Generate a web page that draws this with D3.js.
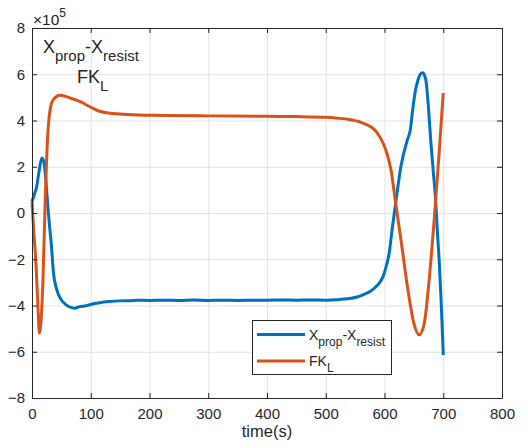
<!DOCTYPE html>
<html>
<head>
<meta charset="utf-8">
<script src="https://cdn.jsdelivr.net/npm/d3@7"></script>
<style>
body { margin: 0; background: #fff; }
text { font-family: "Liberation Sans", Arial, sans-serif; fill: #262626; }
</style>
</head>
<body>
<div id="PlotArea"></div>
<script>
// values are in units of 1e5
var timeBlue = [0, 4, 8, 12, 16.7, 19, 21.5, 24, 27, 30, 32.7, 36.6, 42, 50, 58, 66, 72, 80, 90, 100, 109, 120, 132, 150, 166, 180,
  200, 225, 250, 275, 300, 325, 350, 375, 400, 425, 450, 475, 500, 520, 540, 555, 565, 575, 585, 592, 598, 603, 608, 613, 619,
  628, 639, 644, 648, 652, 657, 661, 665, 670, 675, 679, 683, 687, 690, 693, 696, 698, 700];
var blueVals = [0.5, 0.8, 1.15, 1.8, 2.38, 2.3, 2.0, 1.3, 0.28, -0.6, -1.3, -2.6, -3.3, -3.76, -3.97, -4.08, -4.12, -4.06, -4.02, -3.96, -3.9, -3.86, -3.83, -3.8, -3.79, -3.77,
  -3.78, -3.77, -3.78, -3.76, -3.78, -3.77, -3.78, -3.77, -3.77, -3.76, -3.77, -3.76, -3.77, -3.75, -3.7, -3.62, -3.52, -3.4, -3.2, -3.0, -2.72, -2.3, -1.73, -0.7, 0.43,
  2.02, 3.17, 3.6, 4.47, 5.2, 5.75, 6.0, 6.06, 5.8, 4.5, 3.03, 1.8, 0.57, -0.8, -2.02, -3.6, -4.8, -6.14];

var timeOrange = [0, 3, 7, 10, 12.8, 15, 18.5, 22.5, 27, 32.7, 38, 47, 60, 70, 81, 100, 115, 130, 149, 180, 223, 300, 400, 450, 500,
  520, 540, 560, 575, 585, 593, 602, 611, 619, 628, 639, 650, 659, 667.6, 676, 684.6, 693, 700];
var orangeVals = [0.5, -0.8, -2.3, -4.0, -5.2, -4.8, -3.03, 0.57, 3.46, 4.7, 4.95, 5.09, 5.02, 4.93, 4.83, 4.58, 4.4, 4.32, 4.28, 4.24, 4.22, 4.2, 4.18, 4.17, 4.14,
  4.1, 4.04, 3.92, 3.75, 3.55, 3.25, 2.74, 1.87, 0.43, -1.16, -3.18, -4.77, -5.27, -4.77, -2.89, -0.29, 2.6, 5.19];

var xTicks = [0, 100, 200, 300, 400, 500, 600, 700, 800];
var yTicks = [-8, -6, -4, -2, 0, 2, 4, 6, 8];
var colors = ["#0072BD", "#D95319"];

var margins = [28, 26, 50, 32]; // top right bottom left
var width = 470, height = 370;

var xscale = d3.scaleLinear().domain([0, 800]).range([0, width]);
var yscale = d3.scaleLinear().domain([-8, 8]).range([height, 0]);

var svg = d3.select("#PlotArea").append("svg")
  .attr("width", 528).attr("height", 448)
  .append("g")
  .attr("transform", "translate(" + margins[3] + "," + margins[0] + ")");

// grid
svg.append("g").attr("class", "grid").attr("transform", "translate(0," + height + ")")
  .call(d3.axisBottom(xscale).tickValues(xTicks).tickSize(-height).tickFormat(""))
  .call(function (g) { g.select(".domain").remove(); g.selectAll("line").attr("stroke", "#e2e2e2"); });
svg.append("g").attr("class", "grid")
  .call(d3.axisLeft(yscale).tickValues(yTicks).tickSize(-width).tickFormat(""))
  .call(function (g) { g.select(".domain").remove(); g.selectAll("line").attr("stroke", "#e2e2e2"); });

// lines
var lineFunction = d3.line().x(function (d) { return xscale(d[0]); }).y(function (d) { return yscale(d[1]); }).curve(d3.curveMonotoneX);
var blueData = timeBlue.map(function (t, i) { return [t, blueVals[i]]; });
var orangeData = timeOrange.map(function (t, i) { return [t, orangeVals[i]]; });
svg.append("path").attr("fill", "none").attr("stroke", colors[0]).attr("stroke-width", 3).attr("d", lineFunction(blueData));
svg.append("path").attr("fill", "none").attr("stroke", colors[1]).attr("stroke-width", 3).attr("d", lineFunction(orangeData));

// axes, ticks pointing inward on all four sides
function styleAxis(g) {
  g.select(".domain").attr("stroke", "#262626");
  g.selectAll(".tick line").attr("stroke", "#262626");
  g.selectAll("text").attr("font-size", 15).attr("font-family", "Liberation Sans, Arial, sans-serif").attr("fill", "#262626");
}
svg.append("g").attr("transform", "translate(0," + height + ")")
  .call(d3.axisBottom(xscale).tickValues(xTicks).tickSizeInner(-5).tickSizeOuter(0).tickPadding(10))
  .call(styleAxis);
svg.append("g")
  .call(d3.axisLeft(yscale).tickValues(yTicks).tickSizeInner(-5).tickSizeOuter(0).tickPadding(7))
  .call(styleAxis);
svg.append("g")
  .call(d3.axisTop(xscale).tickValues(xTicks).tickSizeInner(-5).tickSizeOuter(0).tickFormat(""))
  .call(styleAxis);
svg.append("g").attr("transform", "translate(" + width + ",0)")
  .call(d3.axisRight(yscale).tickValues(yTicks).tickSizeInner(-5).tickSizeOuter(0).tickFormat(""))
  .call(styleAxis);

// exponent label
var expo = svg.append("text").attr("x", 1).attr("y", -3).attr("font-size", 15.5);
expo.append("tspan").text("\u00d710");
expo.append("tspan").attr("font-size", 12).attr("dy", -8).text("5");

// x axis title
svg.append("text").attr("x", width / 2).attr("y", 409).attr("text-anchor", "middle").attr("font-size", 16.5).text("time(s)");

// annotations
var ann1 = svg.append("text").attr("x", 11).attr("y", 25).attr("font-size", 18);
ann1.append("tspan").text("X");
ann1.append("tspan").attr("font-size", 15).attr("dy", 8).text("prop");
ann1.append("tspan").attr("dy", -8).text("-X");
ann1.append("tspan").attr("font-size", 15).attr("dy", 8).text("resist");
var ann2 = svg.append("text").attr("x", 45).attr("y", 55).attr("font-size", 18);
ann2.append("tspan").text("FK");
ann2.append("tspan").attr("font-size", 15).attr("dy", 8).text("L");

// legend
var legend = svg.append("g").attr("class", "legend").attr("transform", "translate(220.5,292.5)");
legend.append("rect").attr("width", 139).attr("height", 54).attr("fill", "#fff").attr("stroke", "#262626").attr("stroke-width", 1);
var legendNames = [["X", "prop", "-X", "resist"], ["FK", "L"]];
legendNames.forEach(function (parts, i) {
  var yy = 14 + i * 26.4;
  legend.append("line").attr("x1", 4.5).attr("x2", 52.5).attr("y1", yy).attr("y2", yy).attr("stroke", colors[i]).attr("stroke-width", 3);
  var t = legend.append("text").attr("x", 56.5).attr("y", yy + 5).attr("font-size", 14);
  parts.forEach(function (p, j) {
    if (j % 2 == 0) t.append("tspan").attr("font-size", 14).attr("dy", j == 0 ? 0 : -6).text(p);
    else t.append("tspan").attr("font-size", 12).attr("dy", 6).text(p);
  });
});
</script>
</body>
</html>
